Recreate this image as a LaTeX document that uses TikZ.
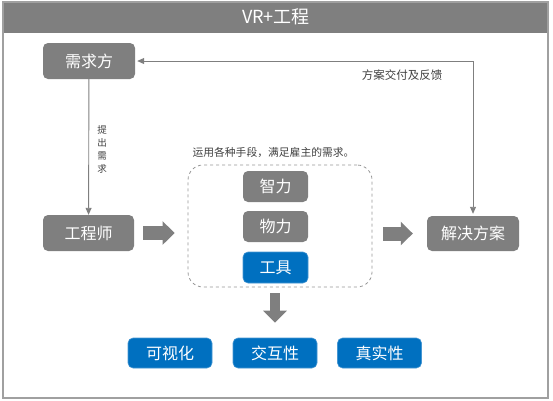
\documentclass[tikz,border=0pt]{standalone}
\usepackage{fontspec}
\setmainfont{Noto Sans CJK SC}
\usetikzlibrary{arrows.meta,calc}
\definecolor{boxgray}{RGB}{127,127,127}
\definecolor{boxblue}{RGB}{0,112,192}
\definecolor{edgeblue}{RGB}{70,150,210}
\definecolor{framegray}{RGB}{160,160,160}
\definecolor{dashgray}{RGB}{150,150,150}

\begin{document}
\begin{tikzpicture}[x=1pt,y=-1pt,
	box/.style={rounded corners=5pt,fill=boxgray,text=white,inner sep=0pt,
	minimum width=91pt,minimum height=36pt,font=\fontsize{16}{19}\selectfont},
	tool/.style={box,minimum width=65pt,minimum height=31pt},
	bluebox/.style={fill=boxblue,draw=edgeblue,line width=0.6pt},
	note/.style={text=black!75,inner sep=0pt,font=\fontsize{10.8}{13}\selectfont},
	link/.style={draw=boxgray,line width=0.9pt},
	fat/.style={draw=boxgray,line width=#1,-{Triangle[width=23pt,length=12pt]}}]
	\useasboundingbox (0,0) rectangle (553,400);
	% frame and title
	\fill[boxgray] (3,2) rectangle (548,33);
	\draw[framegray,line width=1.6pt] (3,2) rectangle (548,398);
	\node[text=white,font=\fontsize{18}{21}\selectfont] (title) at (276,17) {VR+工程};
	% main nodes
	\node[box,minimum width=92pt] (client) at (89,61) {需求方};
	\node[box] (eng) at (88.5,233) {工程师};
	\node[box,minimum width=92pt,minimum height=35pt] (sol) at (473,233.5) {解决方案};
	% means
	\node[draw=dashgray,dashed,line width=0.8pt,rounded corners=15pt,
	minimum width=184pt,minimum height=122pt] (means) at (280,226) {};
	\node[note] (meanslabel) at (273.5,152.5) {运用各种手段，满足雇主的需求。};
	\node[tool] (wit) at (275.5,186.5) {智力};
	\node[tool] (matter) at (275.5,226.5) {物力};
	\node[tool,bluebox] (tools) at (275.5,267.5) {工具};
	% results
	\node[tool,bluebox,minimum width=84pt,minimum height=30pt] (vis) at (170,353) {可视化};
	\node[tool,bluebox,minimum width=84pt,minimum height=30pt] (inter) at (275,353) {交互性};
	\node[tool,bluebox,minimum width=84pt,minimum height=30pt] (real) at (379.5,353) {真实性};
	% connectors
	\draw[link,-{Triangle[width=6pt,length=7pt]}] (client) -- (eng);
	\node[note,font=\fontsize{9.5}{13}\selectfont,align=center] (ask) at (102,149.5) {提\\出\\需\\求};
	\draw[link,{Triangle[width=6pt,length=7pt]}-{Triangle[width=6pt,length=7pt]},
	shorten <=2pt,shorten >=2pt] (client.east) -| (sol.north);
	\node[note,font=\fontsize{11.5}{13}\selectfont] (feedback) at (402,75) {方案交付及反馈};
	\draw[fat=14pt,shorten <=9pt,shorten >=13pt] (eng.east) -- (eng.east -| means.west);
	\draw[fat=14pt,shorten <=11pt,shorten >=14pt] (means.east |- sol.west) -- (sol.west);
	\draw[fat=10.5pt,shorten <=6pt,shorten >=15pt] (means.south -| inter.north) -- (inter.north);
\end{tikzpicture}
\end{document}
